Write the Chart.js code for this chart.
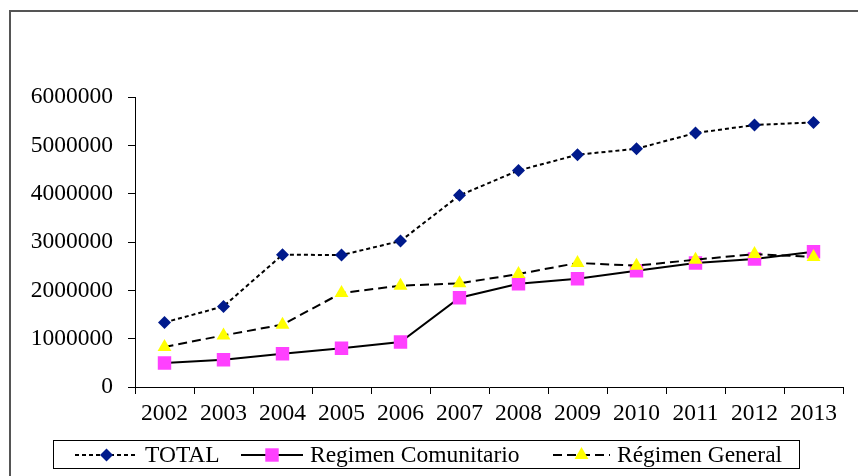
<!DOCTYPE html>
<html>
<head>
<meta charset="utf-8">
<script src="https://cdn.jsdelivr.net/npm/chart.js@4.4.0/dist/chart.umd.min.js"></script>
<style>
  html, body { margin: 0; padding: 0; background: #fff; }
  #wrap { position: relative; width: 858px; height: 476px; }
</style>
</head>
<body>
<div id="wrap"><canvas id="chart" width="858" height="476"></canvas></div>
<script>
// ----------------- Data -----------------
const years = ["2002", "2003", "2004", "2005", "2006", "2007", "2008", "2009", "2010", "2011", "2012", "2013"];
const total = [1335000, 1668000, 2737000, 2730000, 3020000, 3965000, 4480000, 4805000, 4930000, 5255000, 5420000, 5475000];
const comunitario = [497000, 565000, 689000, 800000, 930000, 1848000, 2137000, 2240000, 2406000, 2566000, 2648000, 2800000];
const general = [828000, 1068000, 1290000, 1945000, 2096000, 2144000, 2338000, 2566000, 2510000, 2634000, 2750000, 2690000];
const yTicks = [0, 1000000, 2000000, 3000000, 4000000, 5000000, 6000000];

const seriesNames = ["TOTAL", "Regimen Comunitario", "Régimen General"];

// ----------------- Look -----------------
const FONT = "'Liberation Serif', 'Times New Roman', serif";
const FONT_SIZE = 23.5;
const legendSlots = [
  { from: 75, to: 138, text: 145 },
  { from: 241, to: 303, text: 310 },
  { from: 553, to: 610, text: 617 }
];

function drawMarker(ctx, style, r, x, y, color) {
  ctx.fillStyle = color;
  ctx.beginPath();
  if (style === "rectRot") {
    ctx.moveTo(x, y - r); ctx.lineTo(x + r, y); ctx.lineTo(x, y + r); ctx.lineTo(x - r, y);
  } else if (style === "rect") {
    const h = r * Math.SQRT1_2;
    ctx.rect(x - h, y - h, 2 * h, 2 * h);
  } else {
    const h = r * 0.5, w = r * Math.sin(Math.PI / 3);
    ctx.moveTo(x, y - r); ctx.lineTo(x + w, y + h); ctx.lineTo(x - w, y + h);
  }
  ctx.closePath();
  ctx.fill();
}

// frame round the whole figure
const framePlugin = {
  id: "frame",
  beforeDraw(chart) {
    const ctx = chart.ctx;
    ctx.save();
    ctx.fillStyle = "#fff";
    ctx.fillRect(0, 0, chart.width, chart.height);
    ctx.strokeStyle = "#555";
    ctx.lineWidth = 2;
    ctx.strokeRect(10, 11, 900, 500);
    ctx.restore();
  }
};

// boxed legend with line + marker samples
const boxLegend = {
  id: "boxLegend",
  afterDraw(chart) {
    const ctx = chart.ctx;
    ctx.save();
    ctx.strokeStyle = "#000";
    ctx.lineWidth = 1;
    ctx.strokeRect(53.5, 440.5, 746, 28);
    const y = 455;
    chart.data.datasets.forEach((ds, i) => {
      const s = legendSlots[i];
      ctx.strokeStyle = ds.borderColor;
      ctx.lineWidth = 2;
      ctx.setLineDash(ds.borderDash || []);
      ctx.beginPath();
      ctx.moveTo(s.from, y);
      ctx.lineTo(s.to, y);
      ctx.stroke();
      ctx.setLineDash([]);
      drawMarker(ctx, ds.pointStyle, ds.pointRadius, (s.from + s.to) / 2, y, ds.pointBackgroundColor);
      ctx.fillStyle = "#000";
      ctx.font = FONT_SIZE + "px " + FONT;
      ctx.textBaseline = "middle";
      ctx.textAlign = "left";
      ctx.fillText(ds.label, s.text, y + 1);
    });
    ctx.restore();
  }
};

// ----------------- Chart -----------------
new Chart(document.getElementById("chart"), {
  type: "line",
  data: {
    labels: years,
    datasets: [
      {
        label: seriesNames[0],
        data: total,
        borderColor: "#000",
        borderWidth: 2,
        borderDash: [4, 3],
        pointStyle: "rectRot",
        pointRadius: 6.5,
        pointBackgroundColor: "#001a8c",
        pointBorderWidth: 0,
        tension: 0,
        order: 2
      },
      {
        label: seriesNames[1],
        data: comunitario,
        borderColor: "#000",
        borderWidth: 2,
        pointStyle: "rect",
        pointRadius: 9.5,
        pointBackgroundColor: "#ff40ff",
        pointBorderWidth: 0,
        tension: 0,
        order: 1
      },
      {
        label: seriesNames[2],
        data: general,
        borderColor: "#000",
        borderWidth: 2,
        borderDash: [9, 5],
        pointStyle: "triangle",
        pointRadius: 8,
        pointBackgroundColor: "#ffff00",
        pointBorderWidth: 0,
        tension: 0,
        order: 0
      }
    ]
  },
  options: {
    responsive: false,
    animation: false,
    devicePixelRatio: 1,
    layout: { padding: { top: 97, right: 15, bottom: 49, left: 0 } },
    plugins: {
      legend: { display: false },
      tooltip: { enabled: false }
    },
    scales: {
      x: {
        type: "category",
        offset: true,
        grid: { display: true, drawOnChartArea: false, offset: true, tickLength: 7, color: "#000" },
        border: { color: "#000", width: 1 },
        ticks: { color: "#000", font: { family: FONT, size: FONT_SIZE }, padding: 6, maxRotation: 0, autoSkip: false },
        afterFit: s => { s.height = 40; }
      },
      y: {
        min: yTicks[0],
        max: yTicks[yTicks.length - 1],
        grid: { display: true, drawOnChartArea: false, tickLength: 7, color: "#000" },
        border: { color: "#000", width: 1 },
        afterBuildTicks: s => { s.ticks = yTicks.map(v => ({ value: v })); },
        ticks: { color: "#000", font: { family: FONT, size: FONT_SIZE }, padding: 15, callback: v => String(v) },
        afterFit: s => { s.width = 135; }
      }
    }
  },
  plugins: [framePlugin, boxLegend]
});
</script>
</body>
</html>
